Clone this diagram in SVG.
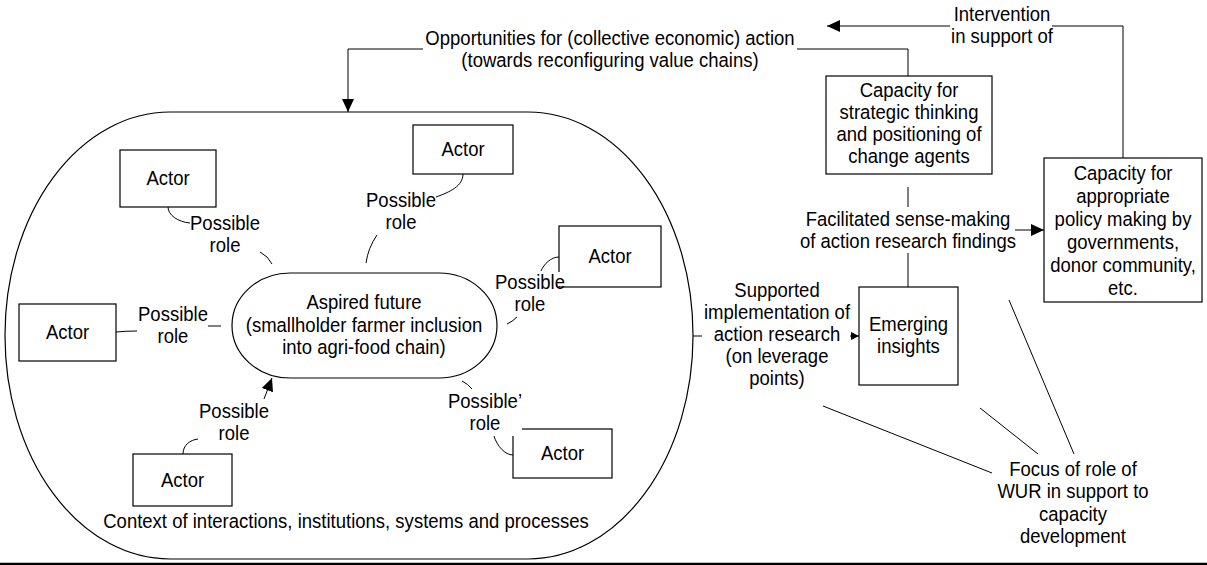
<svg xmlns="http://www.w3.org/2000/svg" width="1207" height="565" viewBox="0 0 1207 565">
<style>
text{font-family:"Liberation Sans",Arial,sans-serif;font-size:19.5px;fill:#000;text-anchor:middle;transform-box:fill-box;transform-origin:center;transform:scaleX(0.95)}
.box{fill:#fff;stroke:#000;stroke-width:1.2}
.ln{fill:none;stroke:#000;stroke-width:1}
.bg{fill:#fff;stroke:none}
</style>
<defs>
<marker id="ah" markerUnits="userSpaceOnUse" markerWidth="13" markerHeight="12" refX="13" refY="6" orient="auto"><path d="M0,0 L13,6 L0,12 z" fill="#000"/></marker>
<marker id="ahs" markerUnits="userSpaceOnUse" markerWidth="8" markerHeight="8" refX="8" refY="4" orient="auto"><path d="M0,0 L8,4 L0,8 z" fill="#000"/></marker>
</defs>
<rect width="1207" height="565" fill="#fff"/>

<g id="context">
<rect class="box" x="5" y="112" width="688" height="447" rx="165" ry="223"/>
<text x="346" y="528">Context of interactions, institutions, systems and processes</text>
</g>

<g id="connectors">
<path class="ln" d="M908,76 V49 H797"/>
<path class="ln" d="M423,49 H348 V112" marker-end="url(#ah)"/>
<path class="ln" d="M1123,158 V26 H1052"/>
<path class="ln" d="M950,26 H827" marker-end="url(#ah)"/>
<path class="ln" d="M908,187 V207"/>
<path class="ln" d="M908,253 V287"/>
<path class="ln" d="M1015,230 H1044" marker-end="url(#ah)"/>
<path class="ln" d="M693,336 H702"/>
<path class="ln" d="M850,336 H859" marker-end="url(#ahs)"/>
<path class="ln" d="M823,406 L992,473"/>
<path class="ln" d="M980,408 L1038,454"/>
<path class="ln" d="M1009,300 L1074,454"/>
<path class="ln" d="M168,207 C168,215 178,222 190,223"/>
<path class="ln" d="M260,252 Q268,256 272,264"/>
<path class="ln" d="M463,174 C463,186 450,192 436,197"/>
<path class="ln" d="M377,235 Q368,248 366,263"/>
<path class="ln" d="M559,257 C551,257 544,264 541,271"/>
<path class="ln" d="M517,317 Q512,322 507,324"/>
<path class="ln" d="M116,332 Q126,331 137,331"/>
<path class="ln" d="M208,326 L221,326"/>
<path class="ln" d="M183,454 C183,445 190,440 198,439"/>
<path class="ln" d="M264,399 L272,378" marker-end="url(#ah)"/>
<path class="ln" d="M513,455 C505,455 497,446 494,436"/>
<path class="ln" d="M462,381 Q468,384 472,389"/>
<line x1="0" y1="564" x2="1207" y2="564" stroke="#000" stroke-width="2.5"/>
</g>

<g id="opportunities-label">
<text x="610" y="45">Opportunities for (collective economic) action</text>
<text x="610" y="67">(towards reconfiguring value chains)</text>
</g>
<g id="intervention-label">
<text x="1002" y="21">Intervention</text>
<text x="1002" y="43">in support of</text>
</g>

<g id="strategic">
<rect class="box" x="826" y="76" width="166" height="98"/>
<text x="909" y="97">Capacity for</text>
<text x="909" y="119">strategic thinking</text>
<text x="909" y="141">and positioning of</text>
<text x="909" y="163">change agents</text>
</g>

<g id="policy">
<rect class="box" x="1044" y="158" width="158" height="144"/>
<text x="1123" y="180">Capacity for</text>
<text x="1123" y="203">appropriate</text>
<text x="1123" y="226">policy making by</text>
<text x="1123" y="249">governments,</text>
<text x="1123" y="272">donor community,</text>
<text x="1123" y="295">etc.</text>
</g>

<g id="facilitated-label">
<text x="908" y="226">Facilitated sense-making</text>
<text x="908" y="248">of action research findings</text>
</g>

<g id="emerging">
<rect class="box" x="859" y="287" width="99" height="98"/>
<text x="908.5" y="331">Emerging</text>
<text x="908.5" y="353">insights</text>
</g>

<g id="supported-label">
<text x="777" y="297">Supported</text>
<text x="777" y="319">implementation of</text>
<text x="777" y="341">action research</text>
<text x="777" y="363">(on leverage</text>
<text x="777" y="385">points)</text>
</g>

<g id="focus-label">
<text x="1073" y="476">Focus of role of</text>
<text x="1073" y="498">WUR in support to</text>
<text x="1073" y="521">capacity</text>
<text x="1073" y="543">development</text>
</g>

<g id="aspired">
<rect class="box" x="232" y="273" width="265" height="105" rx="58" ry="52.5"/>
<text x="364" y="309">Aspired future</text>
<text x="364" y="332">(smallholder farmer inclusion</text>
<text x="364" y="354">into agri-food chain)</text>
</g>

<g id="actor-top-left">
<rect class="box" x="120" y="150" width="96" height="57"/>
<text x="168" y="185">Actor</text>
</g>
<g id="actor-top-middle">
<rect class="box" x="413" y="125" width="100" height="49"/>
<text x="463" y="156">Actor</text>
</g>
<g id="actor-right">
<rect class="box" x="559" y="226" width="102" height="61"/>
<text x="610" y="263">Actor</text>
</g>
<g id="actor-left">
<rect class="box" x="19" y="304" width="97" height="57"/>
<text x="67.5" y="339">Actor</text>
</g>
<g id="actor-bottom-left">
<rect class="box" x="133" y="454" width="99" height="52"/>
<text x="182.5" y="487">Actor</text>
</g>
<g id="actor-bottom-right">
<rect class="box" x="513" y="429" width="99" height="49"/>
<text x="562.5" y="460">Actor</text>
</g>

<g id="role-top-left">
<text x="225" y="230">Possible</text>
<text x="225" y="252">role</text>
</g>
<g id="role-top-middle">
<text x="401" y="207">Possible</text>
<text x="401" y="229">role</text>
</g>
<g id="role-right">
<rect class="bg" x="495" y="272" width="71" height="14"/>
<text x="530" y="289">Possible</text>
<text x="530" y="311">role</text>
</g>
<g id="role-left">
<text x="173" y="321">Possible</text>
<text x="173" y="343">role</text>
</g>
<g id="role-bottom-left">
<text x="234" y="418">Possible</text>
<text x="234" y="440">role</text>
</g>
<g id="role-bottom-right">
<rect class="bg" x="448" y="413" width="74" height="23"/>
<text x="485" y="408">Possible’</text>
<text x="485" y="430">role</text>
</g>
</svg>
